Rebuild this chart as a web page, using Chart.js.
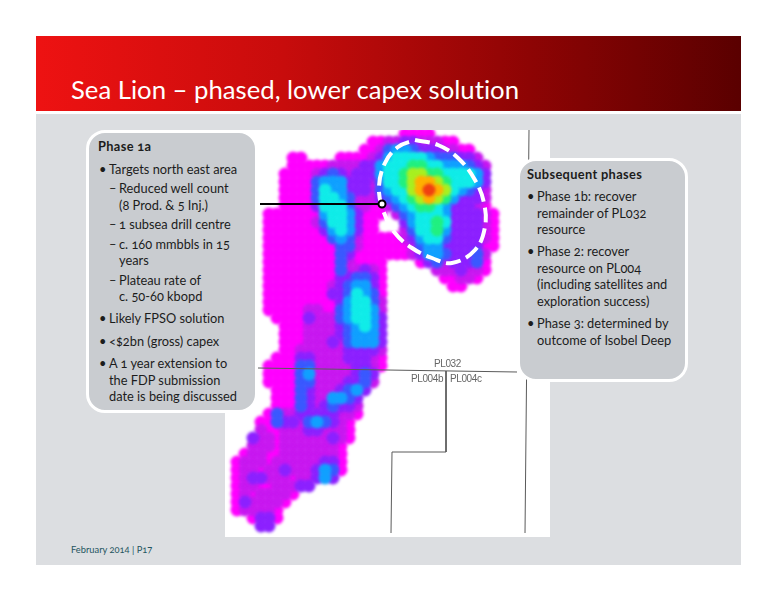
<!DOCTYPE html>
<html>
<head>
<meta charset="utf-8">
<script src="https://cdn.jsdelivr.net/npm/chart.js@4"></script>
<style>
html,body{margin:0;padding:0;background:#fff;width:776px;height:600px;overflow:hidden;font-family:Lato,"Noto Sans",sans-serif;font-variant-numeric:oldstyle-nums;font-variant-ligatures:none}
#panel{position:absolute;left:36px;top:114px;width:705px;height:451px;background:#dcdee1}
#banner{position:absolute;left:36px;top:36px;width:705px;height:75px;background:linear-gradient(90deg,#ee1212 0%,#c80c0c 35%,#8e0404 70%,#5a0000 100%)}
#title{position:absolute;left:71px;top:71px;font-size:25.7px;font-weight:400;line-height:36px;color:#fff;white-space:nowrap}
#mapWrap{position:absolute;left:225px;top:130px;width:325px;height:407px;background:#fff}
canvas{display:block}
.box{position:absolute;box-sizing:border-box;background:#c9ccd0;border:3px solid #fff;border-radius:19px}
.t{position:absolute;white-space:nowrap;color:#1c1c1c;font-size:12.8px;line-height:16px;transform:translateY(-50%)}
.b{font-weight:700;letter-spacing:.35px}
.pl{position:absolute;white-space:nowrap;color:#666;font:10px "Liberation Sans",sans-serif;letter-spacing:-.4px;transform:translateY(-50%)}
#foot{position:absolute;left:71px;top:549px;font-size:9.3px;color:#245560;transform:translateY(-50%);white-space:nowrap}
</style>
</head>
<body>
<div id="panel"></div>
<div id="banner"></div>
<div id="title">Sea Lion – phased, lower capex solution</div>
<div id="mapWrap"><canvas id="map" width="325" height="407"></canvas></div>
<div class="box" style="left:86px;top:130px;width:172px;height:283px"></div>
<div class="box" style="left:517px;top:158px;width:171px;height:224px"></div>
<div id="texts"></div>
<div id="foot">February 2014 | P17</div>
<script>
// Map intensity: one string per row, one digit per cell, '.' = no data
const heatRows = [
"......................0000",
"..................00112211100",
".................00134432221100",
"........00....000012455554333221",
"........00000111122"+"45556655444321",
".......0000123212224"+"5567766555542",
".......0000344422213"+"5567887655542",
".......0000354422213"+"4557898754321",
".......0000355431112"+"3456787642221",
".......0000255531100"+"1345665422210",
".....000000045542000."+"1345554222210",
".....00000013554200..."+"245565222210",
".....000000024542"+"00..."+"135564222210",
".....00000000343100000"+"124553222210",
".....000000000"+"331"+"000000"+"13442222200",
".....000000000"+"32"+"0000000"+"1244322231",
".....000000000"+"31"+"0000"+"...."+"0"+"23122230",
".....000000000"+"311210"+"......"+"1112110",
".....000000000"+"223320"+"......."+"00110",
".....00000000"+"1234420"+"........"+"00",
".....00000000"+"2235430",
".....000000000"+"245531",
".....00000"+"1100"+"345541",
"......0000"+"2111"+"345542",
".......000"+"1111"+"234542",
".......000"+"1111"+"234442",
".......000"+"111"+"2"+"134442",
".......00"+"1"+"1111"+"122221",
"......000"+"22"+"1111"+"22210",
".....0000"+"33"+"11111"+"2210",
".....0000"+"34"+"11111"+"232",
".....0000"+"33"+"1111"+"2"+"231",
"......000"+"32"+"111"+"2342",
"......000"+"3211"+"4432",
"......000"+"32123221",
".....031122222110",
"....0"+"03221343210",
"....100111221110",
"...2110111111210",
"...111011111110",
"..0110011111110",
".01110111111220",
".01101121112430",
".0122111011242",
".0110011122",
".01011110",
".0211110",
".011110",
"...0220",
"....22"
];
const levelNames = ["very low","low","low-mid","mid-low","mid","mid-high","high-mid","high","very high","peak"];
// Overlays, in map units
const pl032Line = [[33,238],[292,242]];
const pl004Split = [[221,241],[221,322],[167,322],[166,403]];
const pl004East = [[304,0],[300,403]];
const phase1aLeader = [[35,74],[157,74]];
const phase1aOutline = [[190,10],[213,15],[233,28],[250,50],[259,73],[260,97],[250,120],[227,133],[207,128],[187,118],[170,103],[158,80],[154,57],[160,33],[173,17],[190,10]];
// Slide text
const slideLines = [
 ["Phase 1a",98,146,1],["•",99,169],["Targets north east area",109,169],
 ["–",109,188],["Reduced well count",119,188],["(8 Prod. & 5 Inj.)",119,205],
 ["–",109,224],["1 subsea drill centre",119,224],
 ["–",109,244],["c. 160 mmbbls in 15",119,244],["years",119,260],
 ["–",109,280],["Plateau rate of",119,280],["c. 50-60 kbopd",119,296],
 ["•",99,318],["Likely FPSO solution",109,318],
 ["•",99,341],["<$2bn (gross) capex",109,341],
 ["•",99,363],["A 1 year extension to",109,363],["the FDP submission",109,380],["date is being discussed",109,396],
 ["Subsequent phases",527,174,1],
 ["•",527,196],["Phase 1b: recover",537,196],["remainder of PL032",537,213],["resource",537,229],
 ["•",527,251],["Phase 2: recover",537,251],["resource on PL004",537,268],["(including satellites and",537,284],["exploration success)",537,301],
 ["•",527,323],["Phase 3: determined by",537,323],["outcome of Isobel Deep",537,340]
];
const blockLabels = [["PL032",434,363],["PL004b",411,378],["PL004c",450,378]];

const levelColors = ["#ff00ff","#c818f0","#8c20ff","#3a58ff","#10a0ff","#10ece8","#20f080","#a8f020","#ffb000","#f04010"];
const cell = 8;
const container = document.getElementById('texts');
slideLines.forEach(([s,x,y,bold])=>{
  const d=document.createElement('div');d.className='t'+(bold?' b':'');d.textContent=s;
  d.style.left=x+'px';d.style.top=y+'px';container.appendChild(d);
});
blockLabels.forEach(([s,x,y])=>{
  const d=document.createElement('div');d.className='pl';d.textContent=s;
  d.style.left=x+'px';d.style.top=y+'px';container.appendChild(d);
});
const pts = a => a.map(([x,y])=>({x,y}));
const datasets = levelNames.map((name,lv)=>{
  const data=[];
  heatRows.forEach((row,r)=>{
    [...row].forEach((ch,c)=>{ if(ch===String(lv)) data.push({x:(c+0.5)*cell,y:(r+0.5)*cell}); });
  });
  return {label:name,data,backgroundColor:levelColors[lv],borderWidth:0,pointRadius:6.5,pointStyle:'circle',showLine:false,order:100-lv};
});
const lineDs=(label,a,extra)=>Object.assign({label,data:pts(a),showLine:true,pointRadius:0,borderColor:'#5a5a5a',borderWidth:1,fill:false,order:5},extra||{});
datasets.push(lineDs('PL032',pl032Line));
datasets.push(lineDs('PL004 split',pl004Split));
datasets.push(lineDs('PL004 east',pl004East));
datasets.push(lineDs('Phase 1a outline',phase1aOutline,{borderColor:'#fff',borderWidth:4,borderDash:[15,6],tension:0.4,order:3}));
datasets.push(lineDs('Leader',phase1aLeader,{borderColor:'#000',borderWidth:2,order:2,
  pointRadius:[0,3.5],pointBackgroundColor:'#fff',pointBorderColor:'#000',pointBorderWidth:2}));
// Soft contour edges for the heat levels only
const softHeat = {
  id:'softHeat',
  beforeDatasetDraw(chart,args){ if(args.index<levelNames.length){ chart.ctx.save(); chart.ctx.filter='blur(1.6px)'; } },
  afterDatasetDraw(chart,args){ if(args.index<levelNames.length){ chart.ctx.restore(); } }
};
new Chart(document.getElementById('map'),{
  type:'scatter',
  data:{datasets},
  plugins:[softHeat],
  options:{
    responsive:false,animation:false,devicePixelRatio:1,
    layout:{padding:0,autoPadding:false},
    plugins:{legend:{display:false},title:{display:false},tooltip:{enabled:false}},
    scales:{
      x:{type:'linear',min:0,max:325,display:false},
      y:{type:'linear',min:0,max:407,reverse:true,display:false}
    }
  }
});
</script>
</body>
</html>
